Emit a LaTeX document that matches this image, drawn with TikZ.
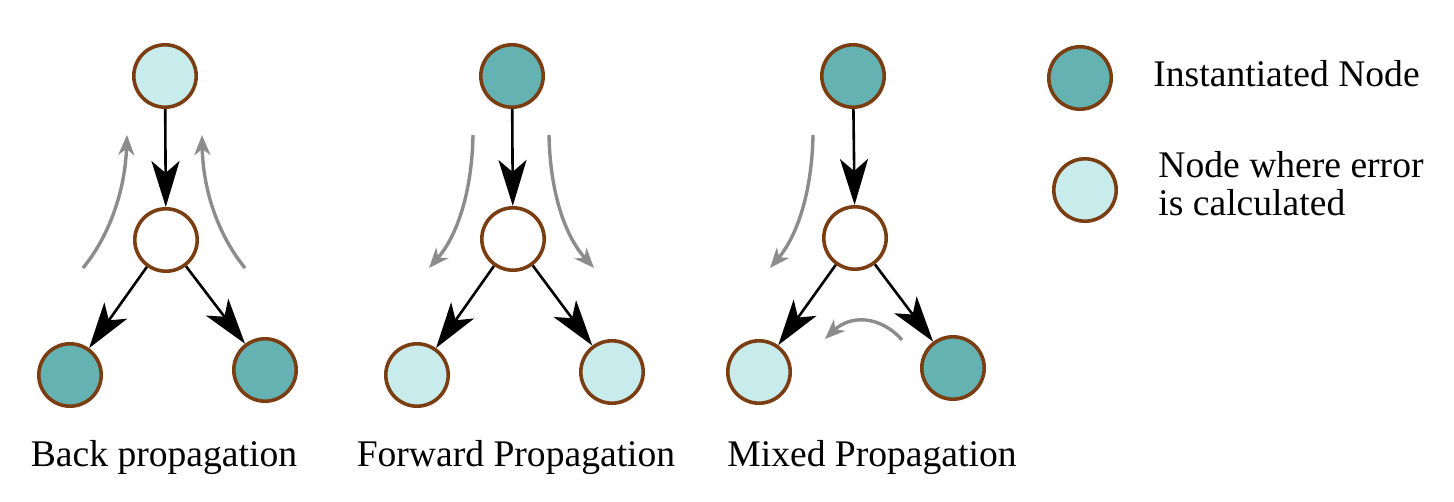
\documentclass[tikz,border=0pt]{standalone}
\usepackage{fontspec}
\setmainfont{Liberation Serif}
\usetikzlibrary{arrows.meta}
\definecolor{tealfill}{RGB}{101,178,178}
\definecolor{lightteal}{RGB}{200,235,235}
\definecolor{brownb}{RGB}{122,62,18}
\definecolor{grayarr}{RGB}{140,140,140}
\tikzset{
  bnode/.style={circle, draw=brownb, line width=1.8pt, minimum size=31.2pt, inner sep=0pt},
  inst/.style={bnode, fill=tealfill},
  errn/.style={bnode, fill=lightteal},
  plain/.style={bnode, fill=white},
  blk/.style={line width=1.3pt, -{Stealth[length=23pt, width=14pt, inset=6pt]}},
  garr/.style={draw=grayarr, line width=1.7pt, -{Stealth[length=10pt, width=8pt, inset=3pt]}},
  lbl/.style={font={\rmfamily\fontsize{18.8}{18.6}\selectfont}, inner sep=0pt}
}
\begin{document}
\begin{tikzpicture}[x=0.5pt, y=-0.5pt]
\useasboundingbox (0,0) rectangle (1454,502);
% Panel 1: Back propagation
\node[errn] (t1) at (165,76) {};
\node[plain] (m1) at (166,240) {};
\node[inst] (l1) at (70,375) {};
\node[inst] (r1) at (265,370) {};
\draw[blk] (t1) -- (m1);
\draw[blk] (m1) -- (l1);
\draw[blk] (m1) -- (r1);
\coordinate (g1a) at (83,268); \coordinate (g1b) at (127,135);
\coordinate (g1c) at (245,268); \coordinate (g1d) at (202,135);
\draw[garr] (g1a) .. controls (110,235) and (125,190) .. (g1b);
\draw[garr] (g1c) .. controls (218,235) and (203,190) .. (g1d);
\node[lbl, anchor=base] (c1) at (164,466) {Back propagation};
% Panel 2: Forward propagation
\node[inst] (t2) at (512,76) {};
\node[plain] (m2) at (513,239) {};
\node[errn] (l2) at (417,375) {};
\node[errn] (r2) at (612,372) {};
\draw[blk] (t2) -- (m2);
\draw[blk] (m2) -- (l2);
\draw[blk] (m2) -- (r2);
\coordinate (g2a) at (473,135); \coordinate (g2b) at (429,268);
\coordinate (g2c) at (549,135); \coordinate (g2d) at (594,268);
\draw[garr] (g2a) .. controls (472,190) and (458,235) .. (g2b);
\draw[garr] (g2c) .. controls (550,190) and (564,235) .. (g2d);
\node[lbl, anchor=base] (c2) at (516,466) {Forward Propagation};
% Panel 3: Mixed propagation
\node[inst] (t3) at (853,76) {};
\node[plain] (m3) at (855,238) {};
\node[errn] (l3) at (759,372) {};
\node[inst] (r3) at (953,368) {};
\draw[blk] (t3) -- (m3);
\draw[blk] (m3) -- (l3);
\draw[blk] (m3) -- (r3);
\coordinate (g3a) at (813,135); \coordinate (g3b) at (770,268);
\coordinate (g3c) at (902,340); \coordinate (g3d) at (825,339);
\draw[garr] (g3a) .. controls (812,190) and (798,235) .. (g3b);
\draw[garr] (g3c) .. controls (880,315) and (850,315) .. (g3d);
\node[lbl, anchor=base] (c3) at (872,466) {Mixed Propagation};
% Legend
\node[inst] (lg1) at (1080,78) {};
\node[errn] (lg2) at (1085,190) {};
\node[lbl, anchor=base west] (lt1) at (1153,87) {Instantiated Node};
\node[lbl, anchor=base west, align=left] (lt2) at (1158,215) {Node where error\\is calculated};
\end{tikzpicture}
\end{document}
